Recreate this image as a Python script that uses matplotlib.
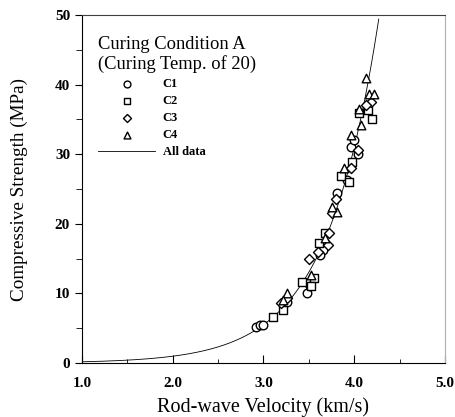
import numpy as np
import matplotlib
matplotlib.use('Agg')
import matplotlib.pyplot as plt
from matplotlib.ticker import MultipleLocator

plt.rcParams['font.family'] = ['Liberation Serif', 'DejaVu Serif']

# velocity (km/s), strength (MPa)
c1_v = [2.92, 2.96, 2.99, 3.26, 3.48, 3.51, 3.66, 3.62, 3.81, 3.92, 3.97, 4.00, 4.04]
c1_s = [5.2, 5.4, 5.5, 8.8, 10.0, 11.0, 16.2, 15.5, 24.4, 26.3, 31.0, 32.0, 30.0]

c2_v = [3.11, 3.21, 3.43, 3.56, 3.52, 3.61, 3.68, 3.85, 3.94, 3.98, 4.05, 4.20, 4.15]
c2_s = [6.65, 7.6, 11.7, 12.2, 11.0, 17.2, 18.7, 26.8, 26.0, 28.9, 35.9, 35.1, 36.4]

c3_v = [3.19, 3.26, 3.50, 3.72, 3.71, 3.76, 3.80, 3.97, 4.04, 4.18, 4.13, 3.60]
c3_s = [8.6, 9.3, 15.0, 18.7, 17.0, 21.5, 23.5, 28.0, 30.6, 37.5, 37.0, 16.0]

c4_v = [3.26, 3.22, 3.52, 3.68, 3.81, 3.76, 3.89, 3.96, 4.07, 4.05, 4.16, 4.22, 4.13]
c4_s = [10.0, 9.0, 12.6, 17.9, 21.7, 22.4, 28.0, 32.7, 34.2, 36.5, 38.7, 38.7, 41.0]

# exponential fit to all data: S = a * exp(b * V)
fit_a, fit_b = 0.0306, 1.73
v_fit = np.linspace(1.0, 4.27, 200)

fig = plt.figure(figsize=(4.55, 4.17), dpi=100)
ax = fig.add_axes([0.180, 0.1295, 0.798, 0.8345])

mk = dict(facecolors='white', edgecolors='black', linewidths=1.0, s=38, zorder=3)
ax.scatter(c1_v, c1_s, marker='o', label='C1', **mk)
ax.scatter(c2_v, c2_s, marker='s', label='C2', **mk)
ax.scatter(c3_v, c3_s, marker='D', label='C3', s=26, facecolors='white',
           edgecolors='black', linewidths=1.0, zorder=3)
ax.scatter(c4_v, c4_s, marker='^', label='C4', **mk)
ax.plot(v_fit, fit_a * np.exp(fit_b * v_fit), color='black', lw=0.6,
        label='All data', zorder=2)

ax.set_xlim(1.0, 5.0)
ax.set_ylim(0, 50)
ax.xaxis.set_minor_locator(MultipleLocator(0.5))
ax.yaxis.set_major_locator(MultipleLocator(10))
ax.yaxis.set_minor_locator(MultipleLocator(5))
ax.set_xticks([1, 2, 3, 4, 5])
ax.set_xticklabels(['1.0', '2.0', '3.0', '4.0', '5.0'])
ax.tick_params(axis='x', which='both', direction='in', labelsize=11, pad=10)
ax.tick_params(axis='x', which='major', length=6)
ax.tick_params(axis='x', which='minor', length=3)
ax.tick_params(axis='y', which='both', direction='out', labelsize=11)
ax.tick_params(axis='y', which='major', length=5)
ax.tick_params(axis='y', which='minor', length=4)
for lab in ax.get_xticklabels() + ax.get_yticklabels():
    lab.set_fontweight('bold')

ax.spines['right'].set_color('#b0b0b0')
ax.spines['top'].set_color('#404040')

ax.set_xlabel('Rod-wave Velocity (km/s)', fontsize=14.5, labelpad=5)
ax.set_ylabel('Compressive Strength (MPa)', fontsize=13.8, labelpad=19)

leg = ax.legend(title='Curing Condition A\n(Curing Temp. of 20)', loc='upper left',
                bbox_to_anchor=(0.03, 0.955), frameon=False,
                prop={'size': 9, 'weight': 'bold'}, markerscale=0.8,
                title_fontsize=13.3, handlelength=4.6, handletextpad=0.6,
                labelspacing=0.4, borderaxespad=0, alignment='left')

fig.savefig('out.png', dpi=100)
